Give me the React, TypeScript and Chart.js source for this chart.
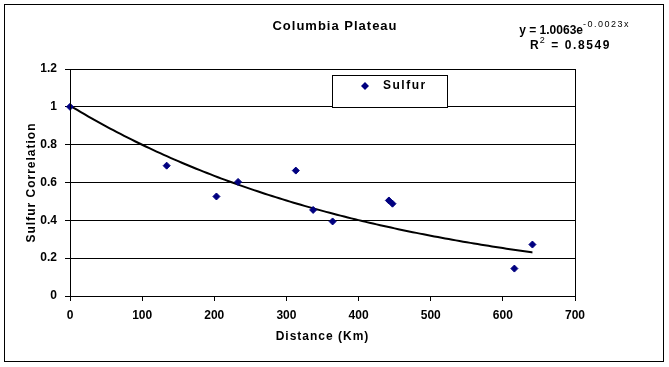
import React, { useEffect, useRef } from "react";
import { Chart, registerables } from "chart.js";

Chart.register(...registerables);

const CHART_TITLE = "Columbia Plateau";
const SERIES_LABEL = "Sulfur";
const X_TITLE = "Distance (Km)";
const Y_TITLE = "Sulfur Correlation";

const distanceKm = [0, 134, 203, 233, 313, 337, 364, 442, 447, 616, 641];
const sulfurCorrelation = [1.0, 0.689, 0.526, 0.603, 0.663, 0.455, 0.394, 0.505, 0.488, 0.145, 0.272];

// Exponential trend line shown on the chart: y = A * e^(B x)
const TREND_A = 1.0063;
const TREND_B = -0.0023;
const R_SQUARED = 0.8549;
const TREND_STEP_KM = 5;

const X_MIN = 0;
const X_MAX = 700;
const X_STEP = 100;
const Y_MIN = 0;
const Y_MAX = 1.2;
const Y_STEP = 0.2;

const FONT = "Arial, 'Liberation Sans', sans-serif";
const MARKER = "#000080";

function drawDiamond(ctx: CanvasRenderingContext2D, x: number, y: number, r: number) {
  ctx.beginPath();
  ctx.moveTo(x - r, y);
  ctx.lineTo(x, y - r);
  ctx.lineTo(x + r, y);
  ctx.lineTo(x, y + r);
  ctx.closePath();
  ctx.fill();
}

function drawRuns(
  ctx: CanvasRenderingContext2D,
  runs: { text: string; font: string; spacing: number; dy: number }[],
  right: number,
  baseline: number
) {
  const widths = runs.map((r) => {
    ctx.font = r.font;
    (ctx as any).letterSpacing = `${r.spacing}px`;
    return ctx.measureText(r.text).width;
  });
  let x = right - widths.reduce((s, w) => s + w, 0);
  runs.forEach((r, i) => {
    ctx.font = r.font;
    (ctx as any).letterSpacing = `${r.spacing}px`;
    ctx.fillText(r.text, x, baseline + r.dy);
    x += widths[i];
  });
}

const decorations = {
  id: "decorations",
  beforeDraw(chart: any) {
    const ctx = chart.ctx as CanvasRenderingContext2D;
    ctx.save();
    ctx.fillStyle = "#ffffff";
    ctx.fillRect(0, 0, chart.width, chart.height);
    ctx.restore();
    // axis titles (drawn with the grid layer) get the wide spacing of the original
    (ctx as any).letterSpacing = "1px";
  },
  beforeDatasetsDraw(chart: any) {
    (chart.ctx as any).letterSpacing = "0px";
  },
  afterDraw(chart: any) {
    const ctx = chart.ctx as CanvasRenderingContext2D;
    const a = chart.chartArea;
    ctx.save();
    ctx.strokeStyle = "#000";
    ctx.lineWidth = 1;
    // plot frame
    ctx.strokeRect(Math.round(a.left) + 0.5, Math.round(a.top) + 0.5, Math.round(a.right - a.left), Math.round(a.bottom - a.top));
    // outer frame
    ctx.strokeRect(4.5, 4.5, chart.width - 10, chart.height - 10);

    ctx.fillStyle = "#000";
    ctx.textBaseline = "alphabetic";
    // title
    (ctx as any).letterSpacing = "1px";
    ctx.font = `bold 13px ${FONT}`;
    ctx.textAlign = "center";
    ctx.fillText(CHART_TITLE, 335, 30);

    // trend equation
    ctx.textAlign = "left";
    drawRuns(
      ctx,
      [
        { text: `y = ${TREND_A.toFixed(4)}e`, font: `bold 12px ${FONT}`, spacing: 0, dy: 0 },
        { text: `${TREND_B.toFixed(4)}x`, font: `9px ${FONT}`, spacing: 1.5, dy: -7 },
      ],
      630,
      34
    );
    drawRuns(
      ctx,
      [
        { text: "R", font: `bold 12px ${FONT}`, spacing: 1, dy: 0 },
        { text: "2", font: `9px ${FONT}`, spacing: 1.5, dy: -6 },
        { text: ` = ${R_SQUARED.toFixed(4)}`, font: `bold 12px ${FONT}`, spacing: 1.6, dy: 0 },
      ],
      611,
      49
    );

    // legend box
    const lx = 332, ly = 75, lw = 115, lh = 32;
    ctx.fillStyle = "#fff";
    ctx.fillRect(lx + 0.5, ly + 0.5, lw, lh);
    ctx.strokeRect(lx + 0.5, ly + 0.5, lw, lh);
    ctx.fillStyle = MARKER;
    drawDiamond(ctx, 365, 86, 4);
    ctx.fillStyle = "#000";
    (ctx as any).letterSpacing = "1.5px";
    ctx.font = `bold 12px ${FONT}`;
    ctx.fillText(SERIES_LABEL, 383, 89);
    ctx.restore();
    (ctx as any).letterSpacing = "0px";
  },
};

export default function App() {
  const canvasRef = useRef<HTMLCanvasElement | null>(null);

  useEffect(() => {
    document.body.style.margin = "0";
    const canvas = canvasRef.current;
    if (!canvas) return;

    const points = distanceKm.map((d, i) => ({ x: d, y: sulfurCorrelation[i] }));
    const maxX = Math.max(...distanceKm);
    const trend: { x: number; y: number }[] = [];
    for (let d = 0; d < maxX; d += TREND_STEP_KM) trend.push({ x: d, y: TREND_A * Math.exp(TREND_B * d) });
    trend.push({ x: maxX, y: TREND_A * Math.exp(TREND_B * maxX) });

    const tickFont = { family: FONT, size: 12, weight: "bold" as const };

    const chart = new Chart(canvas, {
      type: "scatter",
      data: {
        datasets: [
          {
            label: SERIES_LABEL,
            data: points,
            pointStyle: "rectRot",
            pointRadius: 3.5,
            pointBorderWidth: 1,
            backgroundColor: MARKER,
            borderColor: MARKER,
            showLine: false,
            clip: false as any,
            order: 0,
          },
          {
            label: "Expon. (Sulfur)",
            data: trend,
            showLine: true,
            borderColor: "#000",
            borderWidth: 2,
            pointRadius: 0,
            tension: 0,
            clip: false as any,
            order: 1,
          },
        ],
      },
      options: {
        responsive: false,
        animation: false,
        devicePixelRatio: 1,
        layout: { padding: { left: 0, top: 69, right: 94, bottom: 0 } },
        plugins: {
          legend: { display: false },
          title: { display: false },
          tooltip: { enabled: false },
        },
        scales: {
          x: {
            type: "linear",
            min: X_MIN,
            max: X_MAX,
            ticks: { stepSize: X_STEP, color: "#000", font: tickFont, padding: 7, maxRotation: 0, z: 1 },
            grid: { drawOnChartArea: false, color: "#000", tickColor: "#000", tickLength: 5 },
            border: { color: "#000", width: 1 },
            title: {
              display: true,
              text: X_TITLE,
              color: "#000",
              font: tickFont,
              padding: { top: 0, bottom: 23 },
            },
            afterFit: (s: any) => {
              s.height = 71;
            },
          },
          y: {
            type: "linear",
            min: Y_MIN,
            max: Y_MAX,
            ticks: {
              stepSize: Y_STEP,
              color: "#000",
              font: tickFont,
              padding: 8,
              z: 1,
              callback: (v: any) => String(Math.round(Number(v) * 10) / 10),
            },
            grid: { color: "#000", tickColor: "#000", tickLength: 5 },
            border: { color: "#000", width: 1 },
            title: {
              display: true,
              text: Y_TITLE,
              color: "#000",
              font: tickFont,
              padding: { top: 24, bottom: 0 },
            },
            afterFit: (s: any) => {
              s.width = 70;
            },
          },
        },
      },
      plugins: [decorations],
    });

    return () => chart.destroy();
  }, []);

  return (
    <div style={{ position: "absolute", left: 0, top: 0, width: 669, height: 367 }}>
      <canvas ref={canvasRef} width={669} height={367} style={{ width: 669, height: 367, display: "block" }} />
    </div>
  );
}
